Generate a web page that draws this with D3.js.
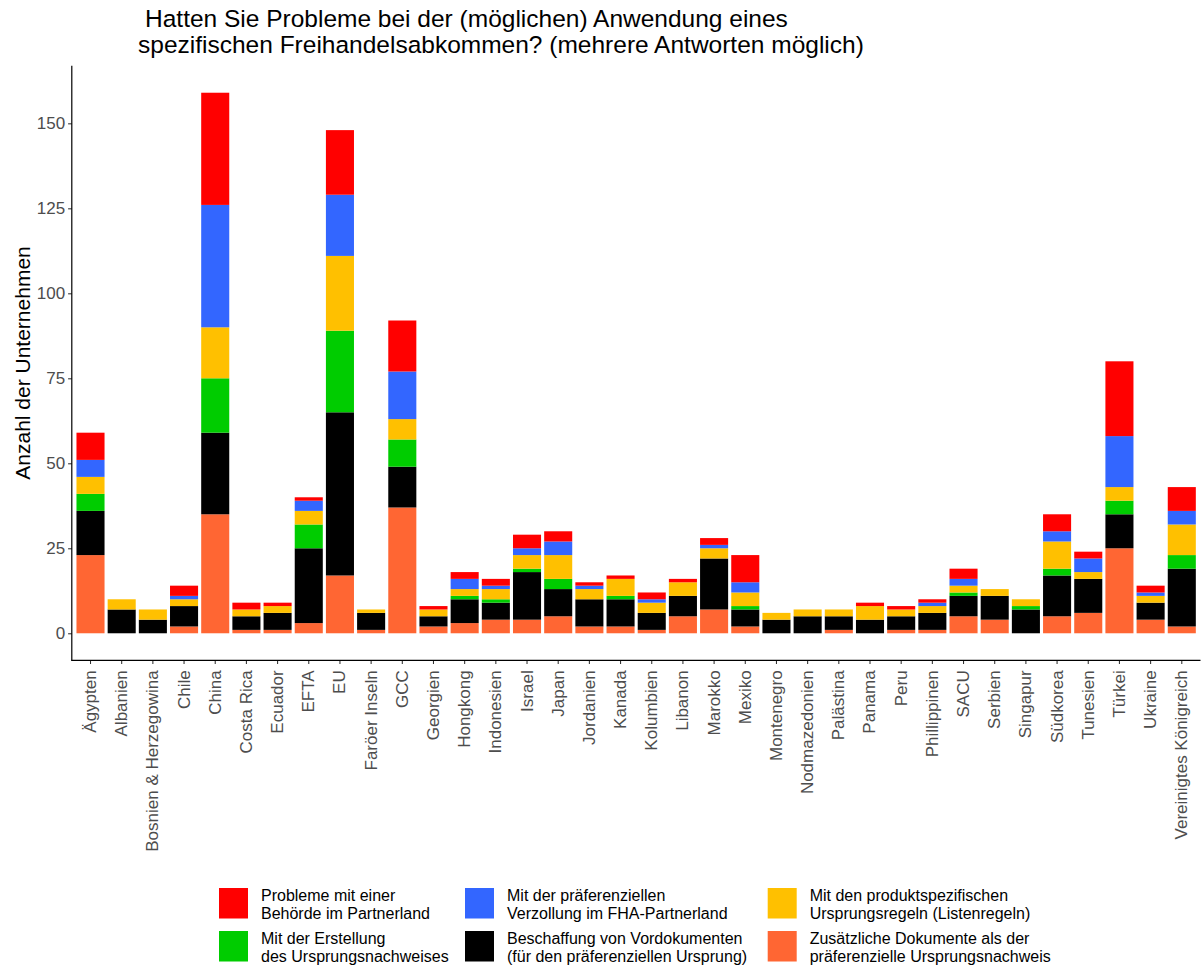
<!DOCTYPE html>
<html lang="de">
<head>
<meta charset="UTF-8">
<title>Freihandelsabkommen</title>
<script src="https://d3js.org/d3.v7.min.js"></script>
<style>
  body { margin: 0; background: #fff; }
  text { font-family: "Liberation Sans", Arial, sans-serif; }
</style>
</head>
<body>
<svg width="1203" height="966"></svg>
<script>
// Länder (x-Achse)
var countries = ["Ägypten", "Albanien", "Bosnien & Herzegowina", "Chile", "China", "Costa Rica",
  "Ecuador", "EFTA", "EU", "Faröer Inseln", "GCC", "Georgien", "Hongkong", "Indonesien", "Israel",
  "Japan", "Jordanien", "Kanada", "Kolumbien", "Libanon", "Marokko", "Mexiko", "Montenegro",
  "Nodmazedonien", "Palästina", "Panama", "Peru", "Phillippinen", "SACU", "Serbien", "Singapur",
  "Südkorea", "Tunesien", "Türkei", "Ukraine", "Vereinigtes Königreich"];

// Werte je Kategorie (von unten nach oben gestapelt)
var zusaetzlich   = [23, 0, 0, 2, 35, 1, 1, 3, 17, 1, 37, 2, 3, 4, 4, 5, 2, 2, 1, 5, 7, 2, 0, 0, 1, 0, 1, 1, 5, 4, 0, 5, 6, 25, 4, 2];
var beschaffung   = [13, 7, 4, 6, 24, 4, 5, 22, 48, 5, 12, 3, 7, 5, 14, 8, 8, 8, 5, 6, 15, 5, 4, 5, 4, 4, 4, 5, 6, 7, 7, 12, 10, 10, 5, 17];
var erstellung    = [5, 0, 0, 0, 16, 0, 0, 7, 24, 0, 8, 0, 1, 1, 1, 3, 0, 1, 0, 0, 0, 1, 0, 0, 0, 0, 0, 0, 1, 0, 1, 2, 0, 4, 0, 4];
var listenregeln  = [5, 3, 3, 2, 15, 2, 2, 4, 22, 1, 6, 2, 2, 3, 4, 7, 3, 5, 3, 4, 3, 4, 2, 2, 2, 4, 2, 2, 2, 2, 2, 8, 2, 4, 2, 9];
var verzollung    = [5, 0, 0, 1, 36, 0, 0, 3, 18, 0, 14, 0, 3, 1, 2, 4, 1, 0, 1, 0, 1, 3, 0, 0, 0, 0, 0, 1, 2, 0, 0, 3, 4, 15, 1, 4];
var behoerde      = [8, 0, 0, 3, 33, 2, 1, 1, 19, 0, 15, 1, 2, 2, 4, 3, 1, 1, 2, 1, 2, 8, 0, 0, 0, 1, 1, 1, 3, 0, 0, 5, 2, 22, 2, 7];

var yTicks = [0, 25, 50, 75, 100, 125, 150];

var series = [
  { key: "zusaetzlich", values: zusaetzlich, color: "#FF6633",
    label: ["Zusätzliche Dokumente als der", "präferenzielle Ursprungsnachweis"] },
  { key: "beschaffung", values: beschaffung, color: "#000000",
    label: ["Beschaffung von Vordokumenten", "(für den präferenziellen Ursprung)"] },
  { key: "erstellung", values: erstellung, color: "#00CC00",
    label: ["Mit der Erstellung", "des Ursprungsnachweises"] },
  { key: "listenregeln", values: listenregeln, color: "#FFC000",
    label: ["Mit den produktspezifischen", "Ursprungsregeln (Listenregeln)"] },
  { key: "verzollung", values: verzollung, color: "#3366FF",
    label: ["Mit der präferenziellen", "Verzollung im FHA-Partnerland"] },
  { key: "behoerde", values: behoerde, color: "#FF0000",
    label: ["Probleme mit einer", "Behörde im Partnerland"] }
];

// Tabelle für d3.stack bauen
var table = countries.map(function(c, i) {
  var row = { land: c };
  series.forEach(function(s) { row[s.key] = s.values[i]; });
  return row;
});

var stacked = d3.stack().keys(series.map(function(s) { return s.key; }))(table);
var colorOf = {};
series.forEach(function(s) { colorOf[s.key] = s.color; });

var svg = d3.select("svg");

// Panel
var pLeft = 71.8, pRight = 1200.5, pTop = 65.7, pBottom = 660.3;
var maxTotal = d3.max(table, function(d) {
  return d3.sum(series, function(s) { return d[s.key]; });
});
var pad = maxTotal * 0.05;

var x = d3.scaleBand()
  .domain(countries)
  .range([pLeft, pRight])
  .paddingInner(0.1)
  .paddingOuter(0.15);

var y = d3.scaleLinear()
  .domain([-pad, maxTotal + pad])
  .range([pBottom, pTop]);

// Balken
svg.append("g").selectAll("g")
  .data(stacked)
  .join("g")
  .attr("fill", function(d) { return colorOf[d.key]; })
  .selectAll("rect")
  .data(function(d) { return d; })
  .join("rect")
  .attr("x", function(d) { return x(d.data.land); })
  .attr("width", x.bandwidth())
  .attr("y", function(d) { return y(d[1]); })
  .attr("height", function(d) { return y(d[0]) - y(d[1]); });

// y-Achse
var yAxis = svg.append("g")
  .attr("transform", "translate(" + pLeft + ",0)")
  .call(d3.axisLeft(y).tickValues(yTicks).tickSizeOuter(0).tickSize(3.7).tickPadding(3));
yAxis.select(".domain").remove();
yAxis.selectAll(".tick line").attr("stroke", "#333333").attr("stroke-width", 1.07);
yAxis.selectAll(".tick text")
  .attr("fill", "#4D4D4D")
  .style("font-size", "17px")
  .style("font-family", "'Liberation Sans', Arial, sans-serif");

// x-Achse
var xAxis = svg.append("g")
  .attr("transform", "translate(0," + pBottom + ")")
  .call(d3.axisBottom(x).tickSizeOuter(0).tickSize(3.7).tickPadding(0));
xAxis.select(".domain").remove();
xAxis.selectAll(".tick line").attr("stroke", "#333333").attr("stroke-width", 1.07);
xAxis.selectAll(".tick text")
  .attr("fill", "#4D4D4D")
  .style("font-size", "17px")
  .style("font-family", "'Liberation Sans', Arial, sans-serif")
  .attr("text-anchor", "end")
  .attr("dy", null)
  .attr("dominant-baseline", "central")
  .attr("transform", "translate(0,10) rotate(-90)")
  .attr("x", 0)
  .attr("y", 0);

// Achsenlinien
svg.append("line")
  .attr("x1", pLeft).attr("x2", pLeft)
  .attr("y1", pTop).attr("y2", pBottom + 0.5)
  .attr("stroke", "#000").attr("stroke-width", 1.2);
svg.append("line")
  .attr("x1", pLeft - 0.5).attr("x2", pRight)
  .attr("y1", pBottom).attr("y2", pBottom)
  .attr("stroke", "#000").attr("stroke-width", 1.2);

// y-Achsentitel
svg.append("text")
  .attr("transform", "translate(22," + ((pTop + pBottom) / 2) + ") rotate(-90)")
  .attr("text-anchor", "middle")
  .attr("dominant-baseline", "central")
  .style("font-size", "21px")
  .attr("fill", "#000")
  .text("Anzahl der Unternehmen");

// Titel
svg.append("text")
  .attr("x", 145).attr("y", 27)
  .style("font-size", "24.5px")
  .attr("fill", "#000")
  .text("Hatten Sie Probleme bei der (möglichen) Anwendung eines");
svg.append("text")
  .attr("x", 138).attr("y", 53)
  .style("font-size", "24.5px")
  .attr("fill", "#000")
  .text("spezifischen Freihandelsabkommen? (mehrere Antworten möglich)");

// Legende (3 Spalten, zeilenweise: rot, blau, gelb / grün, schwarz, orange)
var legendOrder = series.slice().reverse();
var colX = [219, 465, 767.7];
var rowY = [888, 931];
var legend = svg.append("g").selectAll("g")
  .data(legendOrder)
  .join("g")
  .attr("transform", function(d, i) {
    return "translate(" + colX[i % 3] + "," + rowY[Math.floor(i / 3)] + ")";
  });

legend.append("rect")
  .attr("width", 29)
  .attr("height", 30.5)
  .attr("fill", function(d) { return d.color; });

legend.append("text")
  .attr("x", 42)
  .style("font-size", "16px")
  .attr("fill", "#000")
  .selectAll("tspan")
  .data(function(d) { return d.label; })
  .join("tspan")
  .attr("x", 42)
  .attr("y", function(d, i) { return 13 + i * 18; })
  .text(function(d) { return d; });
</script>
</body>
</html>
